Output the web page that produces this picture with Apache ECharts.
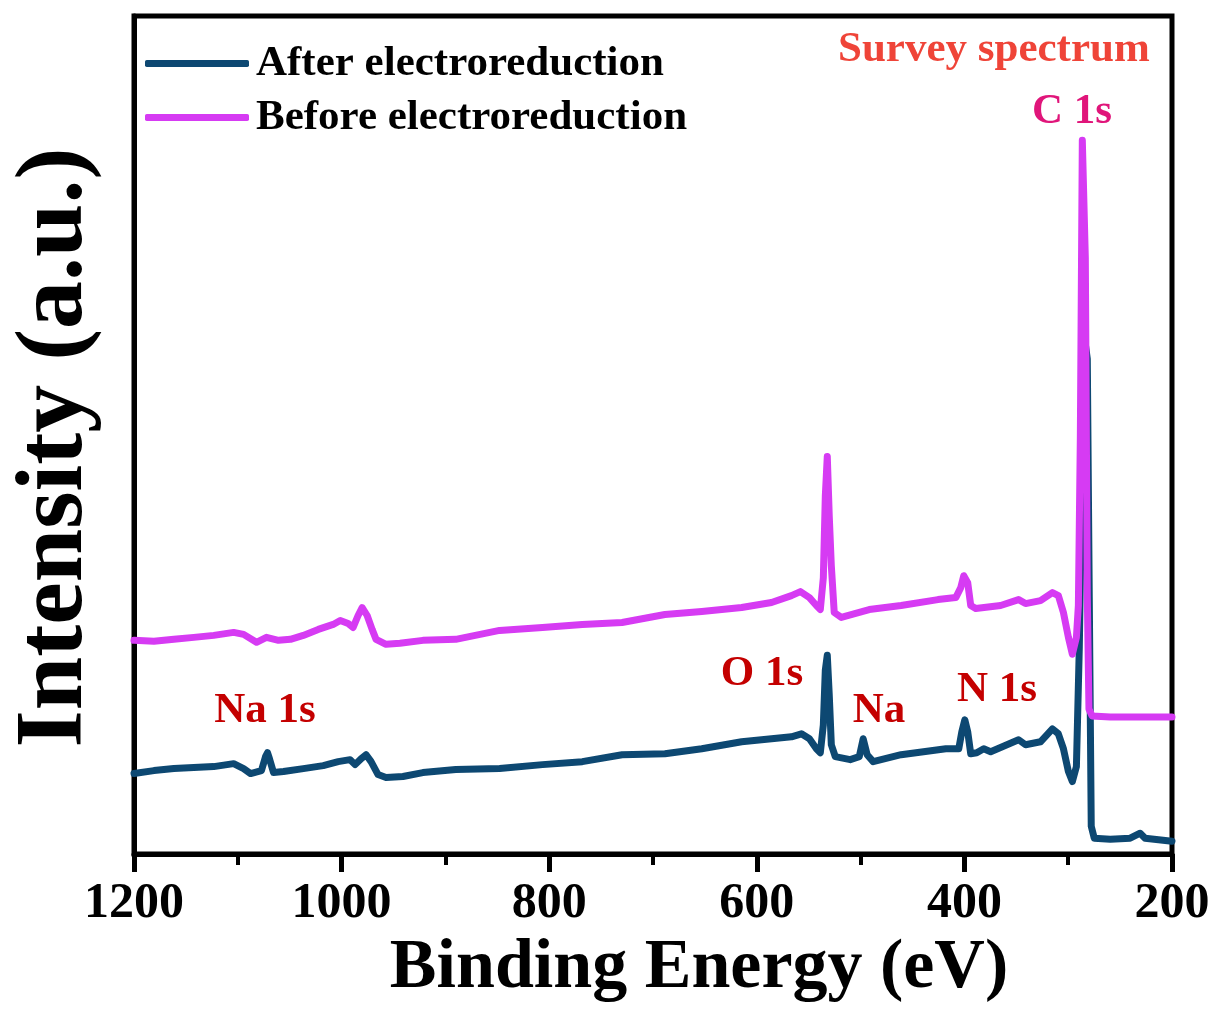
<!DOCTYPE html>
<html>
<head>
<meta charset="utf-8">
<title>XPS survey spectrum</title>
<script src="https://cdn.jsdelivr.net/npm/echarts/dist/echarts.min.js"></script>
<style>
    html, body {margin: 0; padding: 0; background: #fff;}
    #chartmain {width: 1215px; height: 1009px;}
</style>
</head>
<body>
<div id="chartmain"></div>
<script>
// binding energy (eV) and intensity (a.u.)
var energyBefore = [1200.0, 1180.8, 1161.6, 1142.4, 1123.2, 1104.0, 1094.4, 1082.0, 1072.4, 1060.8,
    1049.3, 1036.9, 1022.5, 1008.1, 1001.3, 993.7, 988.9, 984.1, 980.2, 975.4,
    970.6, 966.8, 957.2, 943.8, 921.7, 890.0, 847.8, 806.5, 768.1, 729.8,
    688.5, 653.0, 614.6, 585.8, 566.6, 558.0, 549.3, 542.6, 538.8, 535.9,
    534.0, 532.1, 530.2, 528.2, 525.4, 518.6, 491.7, 461.0, 425.5, 408.3,
    403.5, 400.6, 396.8, 393.9, 389.1, 365.1, 347.8, 341.1, 326.7, 315.2,
    309.5, 304.6, 299.8, 296.0, 292.1, 290.2, 288.3, 286.4, 285.0, 283.5,
    281.6, 280.0, 277.0, 259.5, 230.7, 200.0];
var intensityBefore = [215, 214, 216, 218, 220, 223, 221, 213, 218, 215,
    216, 220, 226, 231, 235, 232, 228, 240, 248, 240,
    226, 216, 211, 212, 215, 216, 225, 228, 231, 233,
    241, 244, 248, 253, 260, 264, 258, 250, 246, 278,
    360, 400, 340, 290, 243, 238, 246, 250, 256, 258,
    268, 280, 273, 250, 247, 250, 256, 252, 255, 263,
    260, 243, 218, 201, 218, 250, 420, 718, 720, 600,
    260, 146, 139, 138, 138, 138];

var energyAfter = [1200.0, 1180.8, 1161.6, 1142.4, 1123.2, 1104.0, 1094.4, 1087.7, 1077.2, 1073.3,
    1071.4, 1069.5, 1065.6, 1056.0, 1036.9, 1017.7, 1003.3, 991.8, 987.0, 981.2,
    976.4, 971.6, 964.9, 957.2, 940.9, 921.7, 890.0, 847.8, 806.5, 768.1,
    729.8, 688.5, 653.0, 614.6, 585.8, 566.6, 557.0, 549.3, 542.6, 538.8,
    535.9, 534.0, 532.1, 530.2, 528.2, 524.4, 510.0, 501.3, 497.5, 493.7,
    487.9, 461.0, 417.9, 405.4, 402.5, 399.6, 396.8, 393.9, 388.1, 381.4,
    374.7, 347.8, 341.1, 326.7, 315.2, 309.5, 304.6, 299.8, 296.0, 292.1,
    289.3, 286.4, 283.5, 281.6, 279.7, 277.8, 274.9, 259.5, 240.3, 230.7,
    225.9, 200.0];
var intensityAfter = [81, 84, 86, 87, 88, 91, 86, 81, 84, 98,
    102, 96, 82, 83, 86, 89, 93, 95, 90, 96,
    100, 93, 80, 77, 78, 82, 85, 86, 90, 93,
    100, 101, 106, 113, 116, 118, 121, 116, 106, 102,
    130, 185, 200, 160, 110, 98, 95, 98, 116, 100,
    93, 100, 106, 106, 123, 135, 123, 101, 102, 106,
    103, 115, 110, 113, 126, 121, 106, 83, 73, 88,
    208, 408, 513, 498, 258, 28, 16, 15, 16, 21,
    16, 13];

var xTicks = [1200, 1000, 800, 600, 400, 200];

function pairs(xs, ys) {
    var out = [];
    for (var i = 0; i < xs.length; i++) {
        out.push([xs[i], ys[i]]);
    }
    return out;
}

var serif = '"Times New Roman", "Liberation Serif", serif';
var myChart = echarts.init(document.getElementById('chartmain'));
var option = {
    animation: false,
    backgroundColor: '#fff',
    grid: {
        left: 130,
        right: 43,
        top: 16,
        bottom: 152,
        show: true,
        borderColor: '#000',
        borderWidth: 5
    },
    legend: {
        data: ['After electroreduction', 'Before electroreduction'],
        orient: 'vertical',
        left: 140,
        top: 37,
        itemWidth: 104,
        itemHeight: 7,
        itemGap: 11,
        icon: 'roundRect',
        textStyle: {
            fontFamily: serif,
            fontWeight: 'bold',
            fontSize: 43,
            lineHeight: 43,
            color: '#000',
            padding: [0, 0, 0, 2]
        }
    },
    xAxis: {
        type: 'value',
        inverse: true,
        min: 200,
        max: 1200,
        interval: 200,
        name: 'Binding Energy (eV)',
        nameLocation: 'middle',
        nameGap: 75,
        nameTextStyle: {
            fontFamily: serif,
            fontWeight: 'bold',
            fontSize: 70,
            lineHeight: 70,
            color: '#000',
            padding: [0, 0, 0, 92]
        },
        axisLine: {lineStyle: {color: '#000', width: 5}},
        axisTick: {show: true, inside: false, length: 18, lineStyle: {color: '#000', width: 5}},
        minorTick: {show: true, splitNumber: 2, length: 11, lineStyle: {color: '#000', width: 4}},
        splitLine: {show: false},
        axisLabel: {
            margin: 25,
            showMinLabel: true,
            showMaxLabel: true,
            fontFamily: serif,
            fontWeight: 'bold',
            fontSize: 50,
            lineHeight: 50,
            color: '#000',
            formatter: function (v) {
                return xTicks.indexOf(v) >= 0 ? String(v) : '';
            }
        }
    },
    yAxis: {
        type: 'value',
        min: 0,
        max: 843,
        name: 'Intensity (a.u.)',
        nameLocation: 'middle',
        nameGap: 30,
        nameTextStyle: {
            fontFamily: serif,
            fontWeight: 'bold',
            fontSize: 96,
            lineHeight: 96,
            color: '#000',
            padding: [0, 25, 0, 0]
        },
        axisLine: {show: true, lineStyle: {color: '#000', width: 5}},
        axisTick: {show: false},
        axisLabel: {show: false},
        splitLine: {show: false}
    },
    graphic: [
        {type: 'text', left: 838, top: 28, style: {text: 'Survey spectrum', fill: '#ef4438', font: 'bold 43px ' + serif}},
        {type: 'text', x: 1072, y: 112, style: {text: 'C 1s', fill: '#e0157a', font: 'bold 43px ' + serif, textAlign: 'center', textVerticalAlign: 'middle'}},
        {type: 'text', x: 265, y: 711, style: {text: 'Na 1s', fill: '#c40000', font: 'bold 43px ' + serif, textAlign: 'center', textVerticalAlign: 'middle'}},
        {type: 'text', x: 762, y: 674, style: {text: 'O 1s', fill: '#c40000', font: 'bold 43px ' + serif, textAlign: 'center', textVerticalAlign: 'middle'}},
        {type: 'text', x: 879, y: 711, style: {text: 'Na', fill: '#c40000', font: 'bold 43px ' + serif, textAlign: 'center', textVerticalAlign: 'middle'}},
        {type: 'text', x: 997, y: 690, style: {text: 'N 1s', fill: '#c40000', font: 'bold 43px ' + serif, textAlign: 'center', textVerticalAlign: 'middle'}}
    ],
    series: [
        {
            name: 'After electroreduction',
            type: 'line',
            data: pairs(energyAfter, intensityAfter),
            symbol: 'none',
            color: '#0d4872',
            lineStyle: {width: 7, color: '#0d4872', join: 'round', cap: 'round'},
            z: 2
        },
        {
            name: 'Before electroreduction',
            type: 'line',
            data: pairs(energyBefore, intensityBefore),
            symbol: 'none',
            color: '#d63bf3',
            lineStyle: {width: 7, color: '#d63bf3', join: 'round', cap: 'round'},
            z: 3
        }
    ]
};
myChart.setOption(option);
</script>
</body>
</html>
